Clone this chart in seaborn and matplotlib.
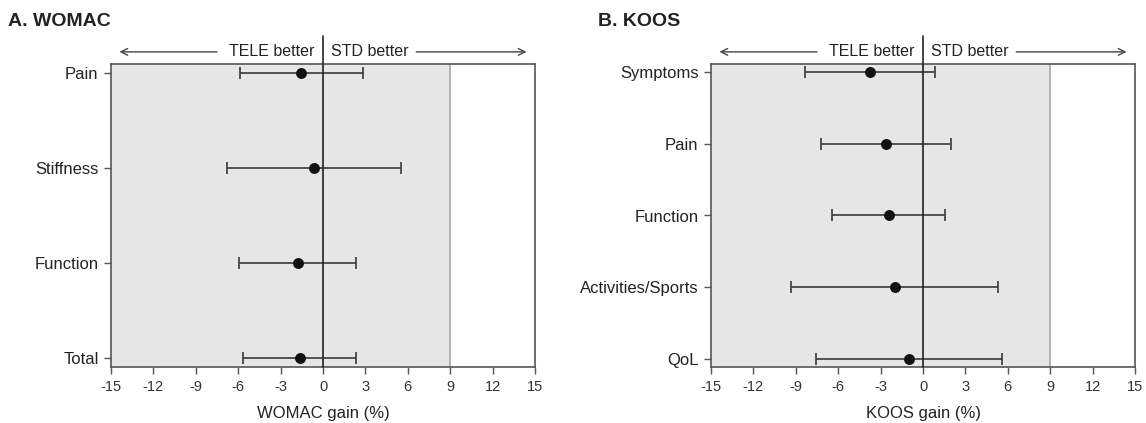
import matplotlib
matplotlib.use("Agg")
import matplotlib.pyplot as plt
import seaborn as sns
import numpy as np
import pandas as pd

womac_cats = ["Pain", "Stiffness", "Function", "Total"]
womac_mean = [-1.55, -0.65, -1.8, -1.63]
womac_low = [-5.9, -6.8, -5.94, -5.63]
womac_high = [2.8, 5.5, 2.32, 2.32]

koos_cats = ["Symptoms", "Pain", "Function", "Activities/Sports", "QoL"]
koos_mean = [-3.76, -2.62, -2.43, -2.01, -1.01]
koos_low = [-8.36, -7.25, -6.47, -9.32, -7.57]
koos_high = [0.87, 1.96, 1.58, 5.29, 5.6]

xticks = [-15, -12, -9, -6, -3, 0, 3, 6, 9, 12, 15]

sns.set_theme(style="white")
FAM = ["Liberation Sans Narrow", "Liberation Sans", "DejaVu Sans"]
plt.rcParams["font.family"] = FAM

fig = plt.figure(figsize=(11.46, 4.23), dpi=100)
W, H = 1146, 423

def make_panel(rect, cats, mean, low, high, title, xlabel, title_x):
    ax = fig.add_axes(rect)
    n = len(cats)
    df = pd.DataFrame({"cat": cats, "mean": mean, "low": low, "high": high,
                       "pos": np.arange(n)})
    ax.axvspan(-15, 9, color="#e6e6e6", zorder=0, lw=0)
    ax.axvline(9, color="#a8a8a8", lw=1.2, zorder=1)
    ax.errorbar(df["mean"], df["pos"],
                xerr=[df["mean"] - df["low"], df["high"] - df["mean"]],
                fmt="none", ecolor="#3a3a3a", elinewidth=1.2, capsize=4,
                capthick=1.2, zorder=3)
    sns.scatterplot(data=df, x="mean", y="pos", ax=ax, color="#111111",
                    s=62, edgecolor="#111111", linewidth=0, zorder=4,
                    legend=False)
    pad = 0.11 if n == 5 else 0.09
    ax.set_ylim(n - 1 + pad, -pad)
    ax.set_xlim(-15, 15)
    ax.set_xticks(xticks)
    ax.set_xticklabels([str(t) for t in xticks], fontsize=10.5, color="#333333")
    ax.set_yticks(range(n))
    ax.set_yticklabels(cats, fontsize=12, color="#222222")
    ax.tick_params(axis="both", which="major", direction="out", length=5,
                   width=1, color="#555555", bottom=True, left=True, pad=4)
    for s in ax.spines.values():
        s.set_color("#555555")
        s.set_linewidth(1.2)
        s.set_visible(True)
    ax.set_xlabel(xlabel, fontsize=12, color="#222222", labelpad=9)
    ax.set_ylabel("")
    span = n - 1 + 2 * pad
    # zero line extending above axis
    ax.plot([0, 0], [n - 1 + pad, -pad - span * 0.092],
            color="#222222", lw=1.2, clip_on=False, zorder=5)
    # header arrows and text
    yh = -pad - span * 0.04
    ax.text(-0.6, yh, "TELE better", ha="right", va="center", fontsize=11.5,
            color="#222222")
    ax.text(0.6, yh, "STD better", ha="left", va="center", fontsize=11.5,
            color="#222222")
    ax.annotate("", xy=(-14.6, yh), xytext=(-7.3, yh),
                arrowprops=dict(arrowstyle="->", color="#444444", lw=1.0),
                annotation_clip=False)
    ax.annotate("", xy=(14.6, yh), xytext=(6.4, yh),
                arrowprops=dict(arrowstyle="->", color="#444444", lw=1.0),
                annotation_clip=False)
    fig.text(title_x / W, 1 - 21 / H, title, fontsize=14, fontweight="bold",
             ha="left", va="center", color="#222222")
    return ax

def rect(x0, x1, y0, y1):
    return [x0 / W, 1 - y1 / H, (x1 - x0) / W, (y1 - y0) / H]

make_panel(rect(111, 535, 64, 367), womac_cats, womac_mean, womac_low,
           womac_high, "A. WOMAC", "WOMAC gain (%)", 8)
make_panel(rect(711, 1135, 64, 367), koos_cats, koos_mean, koos_low,
           koos_high, "B. KOOS", "KOOS gain (%)", 598)

fig.savefig("out.png", dpi=100)
